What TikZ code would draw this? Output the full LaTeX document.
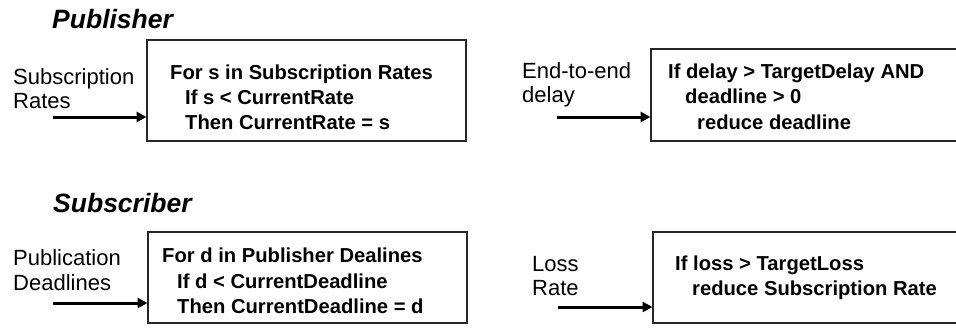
\documentclass[tikz,border=0pt]{standalone}
\usepackage{fontspec}
\setmainfont{Liberation Sans}
\usetikzlibrary{arrows.meta}
\begin{document}
\begin{tikzpicture}[x=1pt,y=-1pt,
  heading/.style={anchor=base west,inner sep=0pt,font=\fontsize{26.5}{30}\selectfont\bfseries\itshape},
  label/.style={anchor=base west,inner sep=0pt,font=\fontsize{22}{26}\selectfont},
  code/.style={anchor=base west,inner sep=0pt,font=\fontsize{20.2}{24}\selectfont\bfseries},
  rulebox/.style={draw=black!85,line width=1.2pt},
  feed/.style={line width=3pt,-{Triangle[length=10pt,width=10pt]},shorten >=0.5pt}]
\clip (0,0) rectangle (956,327);
\fill[white] (0,0) rectangle (956,327);

% Publisher section
\node[heading] (pubhead) at (52,28) {Publisher};

\draw[rulebox] (147,40) rectangle (466,141);
\coordinate (b1w) at (147,117);
\node[label] (l1a) at (13,84) {Subscription};
\node[label] (l1b) at (13,108) {Rates};
\coordinate (a1) at (53,117);
\draw[feed] (a1) -- (b1w);
\node[code] (c11) at (170,79) {For s in Subscription Rates};
\node[code] (c12) at (185,104) {If s < CurrentRate};
\node[code] (c13) at (185,129) {Then CurrentRate = s};

\draw[rulebox] (651,49) rectangle (970,141);
\coordinate (b2w) at (651,117);
\node[label] (l2a) at (522,78) {End-to-end};
\node[label] (l2b) at (522,102) {delay};
\coordinate (a2) at (557,117);
\draw[feed] (a2) -- (b2w);
\node[code] (c21) at (668,78) {If delay > TargetDelay AND};
\node[code] (c22) at (685,103) {deadline > 0};
\node[code] (c23) at (697,129) {reduce deadline};

% Subscriber section
\node[heading] (subhead) at (53,212) {Subscriber};

\draw[rulebox] (148,232) rectangle (467,323);
\coordinate (b3w) at (148,303);
\node[label] (l3a) at (13,265) {Publication};
\node[label] (l3b) at (13,290) {Deadlines};
\coordinate (a3) at (53,303);
\draw[feed] (a3) -- (b3w);
\node[code] (c31) at (162,262) {For d in Publisher Dealines};
\node[code] (c32) at (177,288) {If d < CurrentDeadline};
\node[code] (c33) at (177,313) {Then CurrentDeadline = d};

\draw[rulebox] (653,232) rectangle (970,323);
\coordinate (b4w) at (653,307);
\node[label] (l4a) at (532,271) {Loss};
\node[label] (l4b) at (532,295) {Rate};
\coordinate (a4) at (558,307);
\draw[feed] (a4) -- (b4w);
\node[code] (c41) at (675,270) {If loss > TargetLoss};
\node[code] (c42) at (692,295) {reduce Subscription Rate};
\end{tikzpicture}
\end{document}
